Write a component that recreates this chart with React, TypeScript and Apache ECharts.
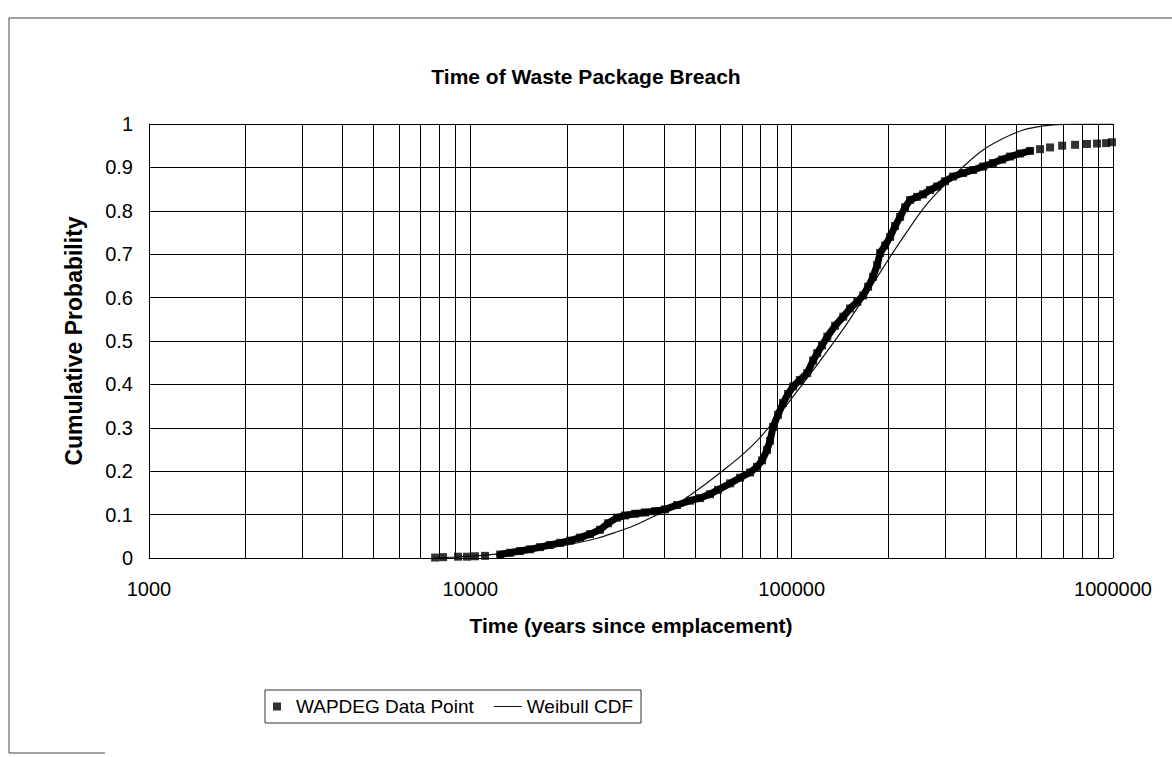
import React, { useEffect, useRef } from "react";
import * as echarts from "echarts";

// WAPDEG data points: [time (years), cumulative probability]
const wapdegTimes = [
  7770, 8225, 9155, 9765, 10340, 11110, 12380, 13290, 14280, 15340, 16480, 17700, 19030, 20440,
  21950, 23580, 25330, 26830, 28620, 30300, 32550, 34970, 37560, 40360, 44000, 48290, 51880,
  55700, 59000, 64330, 69100, 74230, 78000, 80910, 83800, 85660, 87500, 90700, 94000, 97450,
  101000, 106000, 111800, 116600, 120100, 124300, 129100, 136500, 144700, 152000, 160000,
  166900, 172900, 179200, 184500, 188500, 195300, 202500, 209800, 217500, 225400, 233700,
  245600, 256500, 269600, 283500, 300200, 318000, 341700, 366900, 394200, 423400, 451600,
  478300, 514000, 552000, 593000, 637000, 694500, 762000, 830000, 892000, 951600, 993000,
];
const wapdegProb = [
  0.001, 0.002, 0.003, 0.003, 0.004, 0.005, 0.008, 0.012, 0.016, 0.02, 0.025, 0.03, 0.035, 0.04,
  0.047, 0.055, 0.065, 0.08, 0.093, 0.098, 0.102, 0.105, 0.108, 0.112, 0.122, 0.132, 0.138,
  0.147, 0.157, 0.172, 0.185, 0.197, 0.21, 0.225, 0.249, 0.27, 0.302, 0.33, 0.357, 0.378,
  0.395, 0.41, 0.426, 0.455, 0.472, 0.49, 0.51, 0.535, 0.556, 0.575, 0.59,
  0.605, 0.625, 0.648, 0.675, 0.703, 0.72, 0.74, 0.765, 0.786, 0.808, 0.825,
  0.832, 0.838, 0.848, 0.856, 0.868, 0.879, 0.887, 0.894, 0.902, 0.91, 0.918,
  0.925, 0.932, 0.938, 0.942, 0.946, 0.95, 0.952, 0.954, 0.955, 0.956, 0.958,
];
// the points from this index to bandEnd overlap into a continuous band in the source
const bandStart = 6;
const bandEnd = 75;

// Weibull CDF curve: [time (years), cumulative probability]
const weibullTimes = [
  7700, 10000, 12500, 15000, 20000, 25000, 28000, 32000, 37000, 43000, 49000, 55000, 62000,
  70000, 78000, 87000, 97000, 108000, 120000, 133000, 147000, 163000, 182000, 205000, 230000,
  260000, 295000, 340000, 390000, 450000, 520000, 600000, 700000, 850000, 1000000,
];
const weibullProb = [
  0.0, 0.004, 0.01, 0.017, 0.03, 0.046, 0.058, 0.073, 0.095, 0.12, 0.148, 0.175, 0.205,
  0.237, 0.27, 0.31, 0.355, 0.4, 0.445, 0.49, 0.535, 0.585, 0.64, 0.7, 0.755,
  0.81, 0.855, 0.9, 0.938, 0.965, 0.985, 0.995, 0.999, 1.0, 1.0,
];

// Minor (2..9 x decade) vertical gridline positions on the log axis
const minorGridTimes = [
  2000, 3000, 4000, 5000, 6000, 7000, 8000, 9000,
  20000, 30000, 40000, 50000, 60000, 70000, 80000, 90000,
  200000, 300000, 400000, 500000, 600000, 700000, 800000, 900000,
];

const FONT = "'Liberation Sans', Arial, sans-serif";

export default function App() {
  const ref = useRef<HTMLDivElement>(null);

  useEffect(() => {
    if (!ref.current) return;
    const chart = echarts.init(ref.current, undefined, { renderer: "svg" });

    const wapdeg = wapdegTimes.map((t, i) => [t, wapdegProb[i]]);
    const band = wapdeg.slice(bandStart, bandEnd + 1);
    const weibull = weibullTimes.map((t, i) => [t, weibullProb[i]]);

    chart.setOption({
      animation: false,
      backgroundColor: "#fff",
      textStyle: { fontFamily: FONT, color: "#000" },
      title: {
        text: "Time of Waste Package Breach",
        left: "center",
        top: 61,
        textStyle: { fontFamily: FONT, fontSize: 21, fontWeight: "bold", color: "#000" },
      },
      grid: { left: 149, right: 59, top: 124, bottom: 199, containLabel: false },
      legend: {
        left: 265,
        top: 690,
        padding: [7, 8, 7, 8],
        borderColor: "#333",
        borderWidth: 1,
        itemWidth: 28,
        itemHeight: 8,
        itemGap: 20,
        symbolKeepAspect: true,
        textStyle: { fontFamily: FONT, fontSize: 19, color: "#000" },
        data: [
          { name: "WAPDEG Data Point", icon: "path://M0,0L10,0L10,10L0,10Z" },
          { name: "Weibull CDF", icon: "path://M0,0L30,0L30,1.1L0,1.1Z" },
        ],
      },
      xAxis: {
        type: "log",
        logBase: 10,
        min: 1000,
        max: 1000000,
        name: "Time (years since emplacement)",
        nameLocation: "middle",
        nameGap: 57,
        nameTextStyle: { fontFamily: FONT, fontSize: 21, fontWeight: "bold", color: "#000" },
        axisLine: { show: true, lineStyle: { color: "#000", width: 1, type: "dotted" } },
        axisTick: { show: false },
        axisLabel: {
          fontFamily: FONT,
          fontSize: 20,
          color: "#000",
          margin: 21,
          formatter: (v: number) => String(Math.round(v)),
        },
        splitLine: { show: true, lineStyle: { color: "#000", width: 1 } },
      },
      yAxis: {
        type: "value",
        min: 0,
        max: 1,
        interval: 0.1,
        name: "Cumulative Probability",
        nameLocation: "middle",
        nameGap: 64,
        nameRotate: 90,
        nameTextStyle: { fontFamily: FONT, fontSize: 23, fontWeight: "bold", color: "#000" },
        axisLine: { show: true, lineStyle: { color: "#000", width: 1 } },
        axisTick: { show: false },
        axisLabel: { fontFamily: FONT, fontSize: 20, color: "#000", margin: 16 },
        splitLine: { show: true, lineStyle: { color: "#000", width: 1 } },
      },
      series: [
        {
          name: "Weibull CDF",
          type: "line",
          data: weibull,
          smooth: 0.3,
          symbol: "none",
          z: 2,
          lineStyle: { color: "#111", width: 1.2 },
          itemStyle: { color: "#111" },
          markLine: {
            silent: true,
            symbol: ["none", "none"],
            label: { show: false },
            lineStyle: { color: "#000", width: 1, type: "solid" },
            data: minorGridTimes.map((t) => ({ xAxis: t })),
          },
        },
        {
          name: "WAPDEG band",
          type: "line",
          data: band,
          symbol: "none",
          silent: true,
          z: 3,
          lineStyle: { color: "#000", width: 7, join: "round", cap: "round" },
        },
        {
          name: "WAPDEG Data Point",
          type: "scatter",
          data: wapdeg,
          symbol: "rect",
          symbolSize: 8,
          z: 4,
          itemStyle: { color: "#000" },
        },
      ],
      graphic: [
        {
          type: "polyline",
          silent: true,
          shape: { points: [[1172, 18], [9, 18], [9, 753], [105, 753]] },
          style: { stroke: "#444", lineWidth: 1, fill: null },
        },
      ],
    });

    return () => chart.dispose();
  }, []);

  return (
    <div
      ref={ref}
      style={{ position: "absolute", left: 0, top: 0, width: 1172, height: 757 }}
    />
  );
}
